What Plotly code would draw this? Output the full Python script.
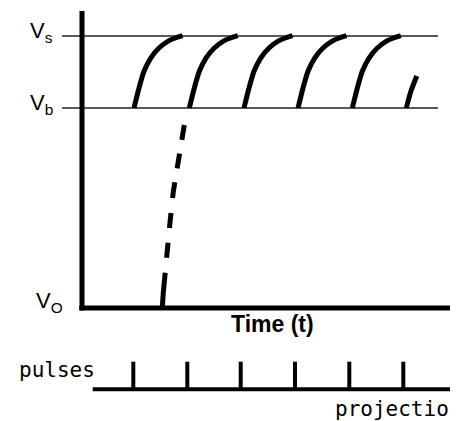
import plotly.graph_objects as go

# ---- data (time in pulse periods, voltage with V_O=0, V_b=1) ----
V_O, V_B, V_S = 0.0, 1.0, 1.36
level_values = [V_O, V_B, V_S]
level_labels = ["V<sub>O</sub>", "V<sub>b</sub>", "V<sub>s</sub>"]

pulse_times = [0.950, 1.950, 2.939, 3.944, 4.950, 5.950]

arc_starts = [0.963, 1.987, 3.000, 4.000, 5.006]
arc_dt = [0.0, 0.093, 0.185, 0.309, 0.463, 0.648, 0.778, 0.898]
arc_frac = [0.0, 0.278, 0.510, 0.694, 0.833, 0.935, 0.976, 1.005]

last_arc_start = 6.006
last_arc_dt = [0.0, 0.083, 0.194]
last_arc_frac = [0.0, 0.229, 0.444]

charge_t = [1.894, 1.870, 1.765, 1.691, 1.630, 1.569, 1.506, 1.487]
charge_v = [0.915, 0.878, 0.729, 0.582, 0.429, 0.279, 0.079, 0.0]

# the page body adds an 8px offset, so the figure covers 8..458 x 8..421 of the frame
t_min, t_max = -1.3704, 6.963
v_min, v_max = -0.565, 1.5
v_axis_top = 1.485
level_line_t = [-0.37, 6.593]
pulse_line_t = [0.198, 6.963]

fig = go.Figure()

# thin reference levels V_b and V_s
for lv in (V_B, V_S):
    fig.add_trace(go.Scatter(x=level_line_t, y=[lv, lv], mode="lines",
                             line=dict(color="#222222", width=1.5),
                             hoverinfo="skip", showlegend=False))

# axes (drawn as thick lines)
fig.add_trace(go.Scatter(x=[0, 0], y=[v_axis_top, -0.0125], mode="lines",
                         line=dict(color="black", width=5), showlegend=False))
fig.add_trace(go.Scatter(x=[-0.05, t_max], y=[V_O, V_O], mode="lines",
                         line=dict(color="black", width=5), showlegend=False))

# charging arcs between V_b and V_s
ax, ay = [], []
for s in arc_starts:
    ax += [s + d for d in arc_dt] + [None]
    ay += [V_B + f * (V_S - V_B) for f in arc_frac] + [None]
ax += [last_arc_start + d for d in last_arc_dt]
ay += [V_B + f * (V_S - V_B) for f in last_arc_frac]
fig.add_trace(go.Scatter(x=ax, y=ay, mode="lines", connectgaps=False,
                         line=dict(color="black", width=5, shape="spline", smoothing=0.6),
                         showlegend=False))

# initial charge from V_O (dashed)
fig.add_trace(go.Scatter(x=charge_t, y=charge_v, mode="lines",
                         line=dict(color="black", width=5,
                                   dash="15px,14px,15px,14px,16px,15px,15px,15px,15px,15px,40px,10px"),
                         showlegend=False))

# pulse train on its own vertical scale
px_, py_ = [], []
for p in pulse_times:
    px_ += [p, p, None]
    py_ += [0, 1, None]
fig.add_trace(go.Scatter(x=px_, y=py_, mode="lines", yaxis="y2",
                         line=dict(color="black", width=4), showlegend=False))
fig.add_trace(go.Scatter(x=pulse_line_t, y=[0, 0], mode="lines", yaxis="y2",
                         line=dict(color="black", width=4), showlegend=False))

label_x = [-0.315, -0.5, -0.5]
label_shift = [6, 4, 4]
annotations = []
for lv, lab, lx, sh in zip(level_values, level_labels, label_x, label_shift):
    annotations.append(dict(x=lx, y=lv, xref="x", yref="y", text=lab, showarrow=False,
                            xanchor="right", yanchor="middle", yshift=sh,
                            font=dict(family="Liberation Sans, Arial", size=22, color="black")))
annotations.append(dict(x=3.528, y=-0.08, xref="x", yref="y", text="Time (t)", showarrow=False,
                        xanchor="center", yanchor="middle",
                        font=dict(family="Liberation Sans, Arial", size=23, color="black", weight="bold")))
annotations.append(dict(x=(57 - 82) / 54, y=(308 - 370) / 200, xref="x", yref="y", text="pulses",
                        showarrow=False, xanchor="center", yanchor="middle",
                        font=dict(family="DejaVu Sans Mono", size=21, color="black")))
annotations.append(dict(x=4.648, y=-0.505, xref="x", yref="y", text="projection", showarrow=False,
                        xanchor="left", yanchor="middle",
                        font=dict(family="DejaVu Sans Mono", size=21, color="black")))

fig.update_layout(
    width=450, height=413,
    margin=dict(l=0, r=0, t=0, b=0),
    paper_bgcolor="white", plot_bgcolor="white",
    xaxis=dict(range=[t_min, t_max], visible=False, fixedrange=True),
    yaxis=dict(range=[v_min, v_max], visible=False, fixedrange=True),
    yaxis2=dict(range=[-1.149, 13.815], overlaying="y", visible=False, fixedrange=True),
    annotations=annotations,
    showlegend=False,
)

fig.write_html("out.html")
